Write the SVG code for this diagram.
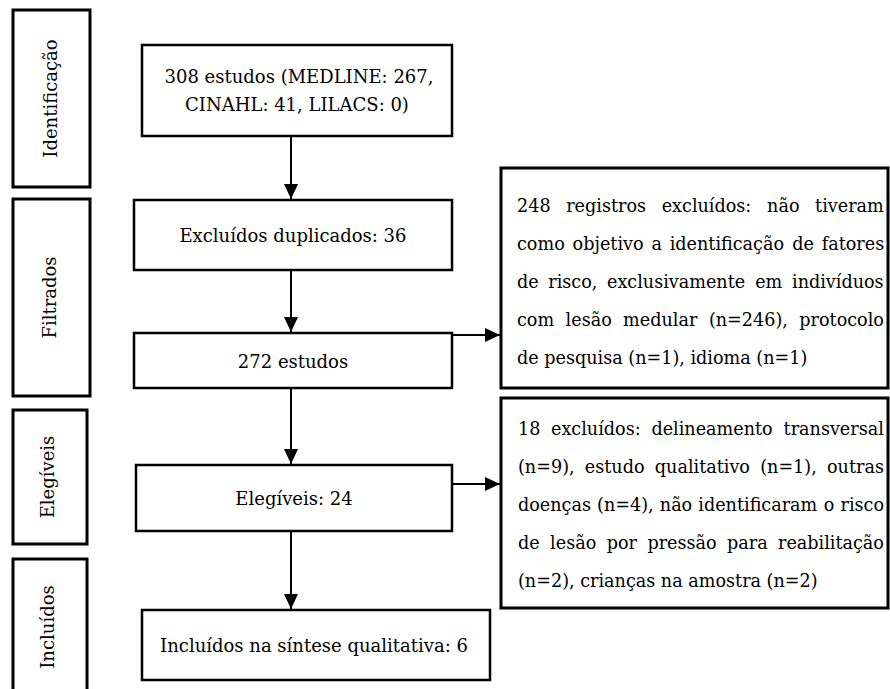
<svg xmlns="http://www.w3.org/2000/svg" width="890" height="689" viewBox="0 0 890 689">
  <defs>
    <marker id="arrowhead" markerUnits="userSpaceOnUse" viewBox="0 0 15 14" markerWidth="15" markerHeight="14" refX="15" refY="7" orient="auto">
      <path d="M0,0 L15,7 L0,14 Z" fill="#000"/>
    </marker>
    <style>
      text { font-family: "DejaVu Serif", "Liberation Serif", serif; font-size: 18px; fill: #000; }
      .mid { text-anchor: middle; }
      .stage rect { fill: #fff; stroke: #000; stroke-width: 3; }
      .step rect { fill: #fff; stroke: #000; stroke-width: 2.5; }
      .note rect { fill: #fff; stroke: #000; stroke-width: 3; }
      .note text { font-size: 17.6px; }
      #connectors path { fill: none; stroke: #000; stroke-width: 2; marker-end: url(#arrowhead); }
    </style>
  </defs>

  <rect width="890" height="689" fill="#fff"/>

  <!-- stage labels (left column) -->
  <g id="stage-identificacao" class="stage">
    <rect x="13" y="10" width="77" height="177"/>
    <text class="mid" transform="translate(57,98.5) rotate(-90)">Identificação</text>
  </g>
  <g id="stage-filtrados" class="stage">
    <rect x="13" y="199" width="77" height="197"/>
    <text class="mid" transform="translate(56,297.5) rotate(-90)">Filtrados</text>
  </g>
  <g id="stage-elegiveis" class="stage">
    <rect x="13" y="410" width="74" height="134"/>
    <text class="mid" transform="translate(54,477) rotate(-90)">Elegíveis</text>
  </g>
  <g id="stage-incluidos" class="stage">
    <rect x="13" y="559" width="74" height="140"/>
    <text class="mid" transform="translate(54,627) rotate(-90)">Incluídos</text>
  </g>

  <!-- main flow -->
  <g id="node-identificados" class="step">
    <rect x="142" y="45" width="310" height="91"/>
    <text class="mid" x="299" y="83">308 estudos (MEDLINE: 267,</text>
    <text class="mid" x="297" y="111">CINAHL: 41, LILACS: 0)</text>
  </g>
  <g id="node-duplicados" class="step">
    <rect x="134" y="200" width="318" height="70"/>
    <text class="mid" x="293" y="242">Excluídos duplicados: 36</text>
  </g>
  <g id="node-estudos" class="step">
    <rect x="134" y="333" width="318" height="55"/>
    <text class="mid" x="293" y="368">272 estudos</text>
  </g>
  <g id="node-elegiveis" class="step">
    <rect x="136" y="465" width="316" height="66"/>
    <text class="mid" x="294" y="505">Elegíveis: 24</text>
  </g>
  <g id="node-incluidos" class="step">
    <rect x="142" y="610" width="348" height="70"/>
    <text class="mid" x="314" y="652">Incluídos na síntese qualitativa: 6</text>
  </g>

  <!-- exclusion notes (right column): justified lines, one tspan per word -->
  <g id="node-excluidos-filtro" class="note">
    <rect x="501" y="168" width="387" height="220"/>
    <text y="212"><tspan x="517">248</tspan> <tspan x="566.2">registros</tspan> <tspan x="661.7">excluídos:</tspan> <tspan x="767.1">não</tspan> <tspan x="815.1">tiveram</tspan></text>
    <text y="250"><tspan x="517">como</tspan> <tspan x="572.6">objetivo</tspan> <tspan x="651.5">a</tspan> <tspan x="669.7">identificação</tspan> <tspan x="792.2">de</tspan> <tspan x="821.7">fatores</tspan></text>
    <text y="288"><tspan x="517">de</tspan> <tspan x="548.3">risco,</tspan> <tspan x="607">exclusivamente</tspan> <tspan x="755.2">em</tspan> <tspan x="792">indivíduos</tspan></text>
    <text y="326"><tspan x="517">com</tspan> <tspan x="565.6">lesão</tspan> <tspan x="623.1">medular</tspan> <tspan x="708.9">(n=246),</tspan> <tspan x="799.3">protocolo</tspan></text>
    <text x="517" y="364">de pesquisa (n=1), idioma (n=1)</text>
  </g>
  <g id="node-excluidos-elegibilidade" class="note">
    <rect x="501" y="398" width="387" height="210"/>
    <text y="435"><tspan x="518">18</tspan> <tspan x="551">excluídos:</tspan> <tspan x="651.4">delineamento</tspan> <tspan x="783.6">transversal</tspan></text>
    <text y="473"><tspan x="518">(n=9),</tspan> <tspan x="584.8">estudo</tspan> <tspan x="654.8">qualitativo</tspan> <tspan x="760.2">(n=1),</tspan> <tspan x="827">outras</tspan></text>
    <text y="511"><tspan x="518">doenças</tspan> <tspan x="597.1">(n=4),</tspan> <tspan x="659.8">não</tspan> <tspan x="698.3">identificaram</tspan> <tspan x="823.8">o</tspan> <tspan x="840.5">risco</tspan></text>
    <text y="549"><tspan x="518">de</tspan> <tspan x="550.1">lesão</tspan> <tspan x="606.7">por</tspan> <tspan x="647.4">pressão</tspan> <tspan x="727">para</tspan> <tspan x="778">reabilitação</tspan></text>
    <text x="518" y="587">(n=2), crianças na amostra (n=2)</text>
  </g>

  <!-- connectors -->
  <g id="connectors">
    <path d="M291,136 V199"/>
    <path d="M291,270 V332"/>
    <path d="M291,388 V464"/>
    <path d="M291,531 V609"/>
    <path d="M452,335 H500"/>
    <path d="M452,484 H500"/>
  </g>
</svg>
